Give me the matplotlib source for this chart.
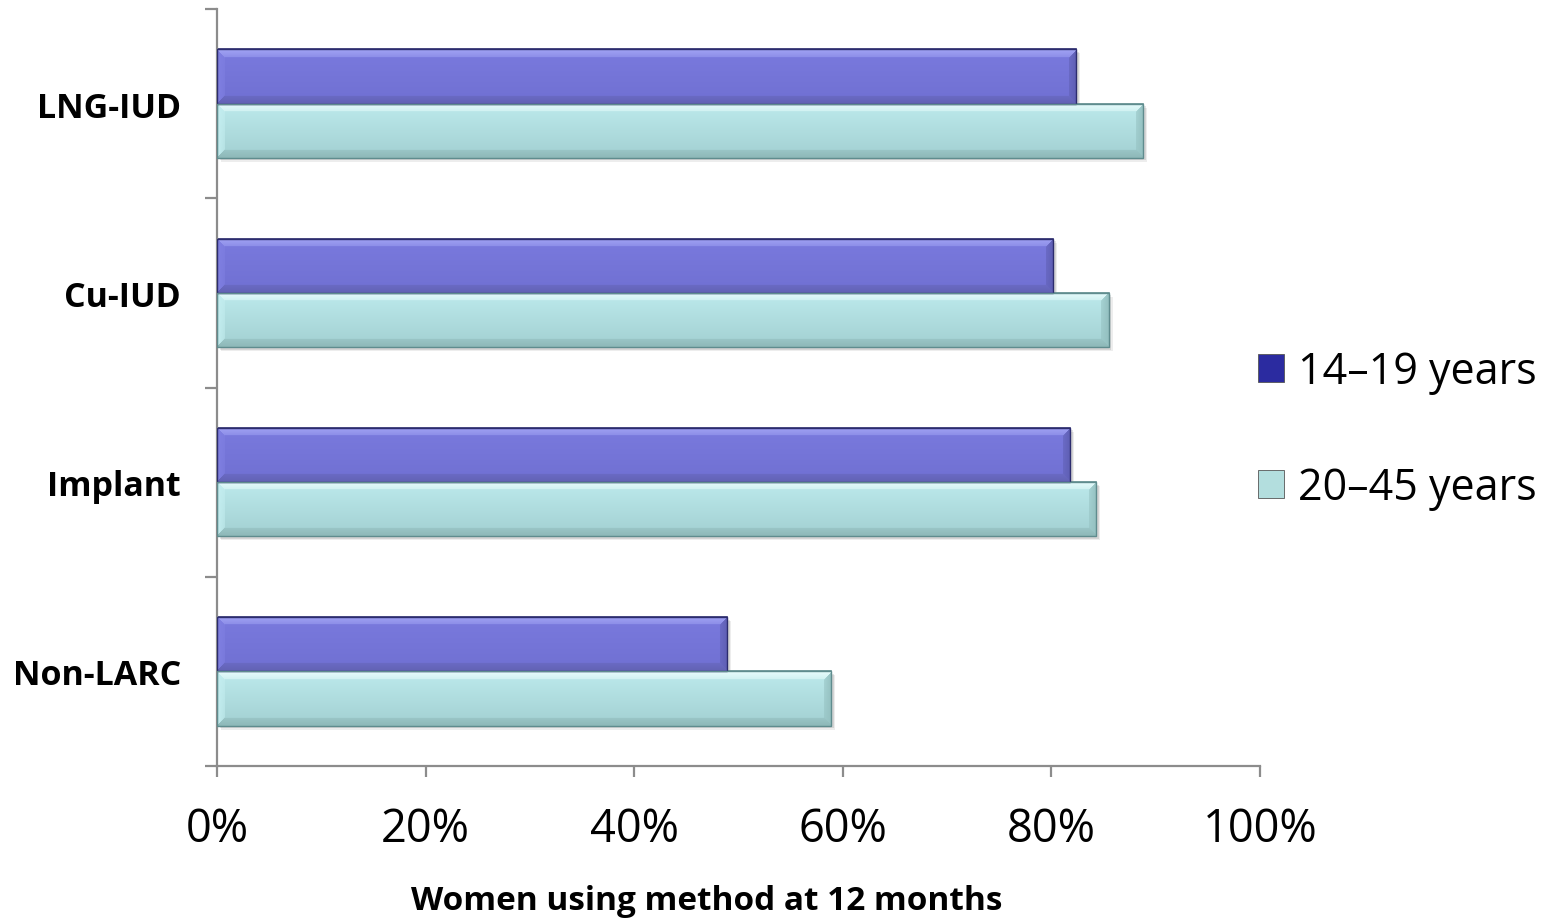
import numpy as np
import matplotlib
matplotlib.use("Agg")
import matplotlib.pyplot as plt
from matplotlib.patches import Rectangle, Patch
from matplotlib.ticker import FixedLocator, PercentFormatter

plt.rcParams['font.family'] = ['Open Sans', 'DejaVu Sans']

categories = ["LNG-IUD", "Cu-IUD", "Implant", "Non-LARC"]
series_names = ["14\u201319 years", "20\u201345 years"]
teen_values = [0.824, 0.802, 0.818, 0.489]
adult_values = [0.888, 0.855, 0.843, 0.589]
x_ticks = [0.0, 0.2, 0.4, 0.6, 0.8, 1.0]
x_title = "Women using method at 12 months"

W, H, DPI = 1552, 920, 100
fig = plt.figure(figsize=(W / DPI, H / DPI), dpi=DPI)
ax = fig.add_axes([217 / W, 1 - 767 / H, (1260 - 217) / W, (767 - 10) / H])

# facet colours: (top facet, interior top, interior bottom, bottom facet, left facet, right facet, outline)
styles = {
    0: dict(top="#a2a4f4", it="#7a7ade", ib="#7070d2", bot="#6262b4", left="#8080e2",
            right="#5e5eb2", edge="#2c2c6e"),
    1: dict(top="#e8fcfc", it="#bdeaec", ib="#a2d0d2", bot="#8eb8b8", left="#c4eef0",
            right="#94c0c0", edge="#5f8c8e"),
}
legend_colors = ["#2b2ba0", "#b3dede"]

bar_h = 0.286
px_per_unit_x = (1260 - 217)
px_per_unit_y = (767 - 10) / 4.0


def hex2rgb(h):
    return np.array(matplotlib.colors.to_rgb(h))


def bevel_image(width_px, height_px, st, bevel=8):
    nx = max(int(round(width_px)), 2)
    ny = max(int(round(height_px)), 2)
    xs = np.arange(nx)[None, :] + 0.5
    ys = np.arange(ny)[:, None] + 0.5
    d_t = np.broadcast_to(ys, (ny, nx))
    d_b = np.broadcast_to(ny - ys, (ny, nx))
    d_l = np.broadcast_to(xs, (ny, nx))
    d_r = np.broadcast_to(nx - xs, (ny, nx))
    t = (ys / ny)
    it, ib = hex2rgb(st["it"]), hex2rgb(st["ib"])
    img = np.empty((ny, nx, 3))
    img[:] = (it[None, None, :] * (1 - t[..., None]) + ib[None, None, :] * t[..., None])
    stack = np.stack([d_t, d_b, d_l, d_r])
    nearest = np.argmin(stack, axis=0)
    mind = np.min(stack, axis=0)
    facet_cols = [hex2rgb(st["top"]), hex2rgb(st["bot"]), hex2rgb(st["left"]), hex2rgb(st["right"])]
    for k, c in enumerate(facet_cols):
        m = (nearest == k) & (mind < bevel)
        # facets fade toward the interior
        w = (1 - mind[m] / bevel)[:, None] * 0.5 + 0.5
        img[m] = c * w + img[m] * (1 - w)
    return img


def draw_bar(y, value, series):
    st = styles[series]
    y0 = y - bar_h / 2
    # soft drop shadow
    for off, a in [(4, 0.07), (2.5, 0.10)]:
        ax.add_patch(Rectangle((off / px_per_unit_x, y0 - off / px_per_unit_y), value, bar_h,
                               facecolor="#000000", alpha=a, linewidth=0, zorder=1))
    rect = Rectangle((0, y0), value, bar_h, facecolor=st["it"], edgecolor=st["edge"],
                     linewidth=1.2, zorder=2)
    ax.add_patch(rect)
    img = bevel_image(value * px_per_unit_x, bar_h * px_per_unit_y, st)
    im = ax.imshow(img, extent=(0, value, y0, y0 + bar_h), origin="upper",
                   aspect="auto", zorder=2.5, interpolation="bilinear")
    im.set_clip_path(rect)
    ax.add_patch(Rectangle((0, y0), value, bar_h, facecolor="none", edgecolor=st["edge"],
                           linewidth=1.0, zorder=3))


n = len(categories)
centers = [n - 1 - i for i in range(n)]
for c, tv, av in zip(centers, teen_values, adult_values):
    draw_bar(c + bar_h / 2, tv, 0)
    draw_bar(c - bar_h / 2, av, 1)

ax.set_xlim(0, 1)
ax.set_ylim(-0.5, n - 0.5)

for s in ["top", "right"]:
    ax.spines[s].set_visible(False)
for s in ["left", "bottom"]:
    ax.spines[s].set_color("#8c8c8c")
    ax.spines[s].set_linewidth(1.6)

ax.xaxis.set_major_locator(FixedLocator(x_ticks))
ax.xaxis.set_major_formatter(PercentFormatter(1.0, decimals=0))
ax.tick_params(axis="x", which="major", direction="out", length=8, width=1.6,
               color="#8c8c8c", labelsize=32.5, pad=21)

ax.set_yticks(centers)
ax.set_yticklabels(categories, fontsize=24.5, fontweight="bold")
ax.yaxis.set_minor_locator(FixedLocator([k - 0.5 for k in range(n + 1)]))
ax.tick_params(axis="y", which="major", length=0, pad=26)
ax.tick_params(axis="y", which="minor", direction="out", length=9, width=1.6, color="#8c8c8c")

fig.text(707 / W, 1 - 902 / H, x_title, ha="center", va="center", fontsize=24,
         fontweight="bold")

handles = [Patch(facecolor=legend_colors[i], edgecolor="#555555", linewidth=0.6)
           for i in range(2)]
fig.legend(handles, series_names, loc="center left", bbox_to_anchor=(1258 / W, 1 - 431 / H),
           frameon=False, fontsize=31, handlelength=0.6, handleheight=0.6,
           handletextpad=0.33, labelspacing=1.66, borderaxespad=0, borderpad=0)

fig.savefig("out.png", dpi=DPI, facecolor="white")
